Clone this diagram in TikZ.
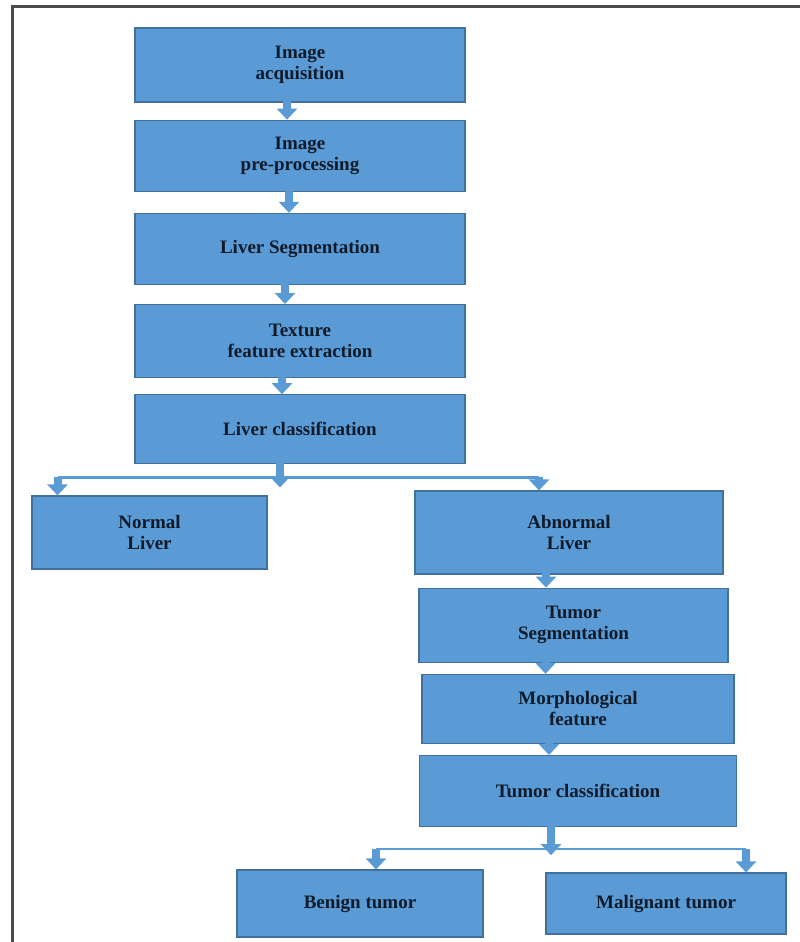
\documentclass[tikz,border=0pt]{standalone}
\usepackage{fontspec}
\setmainfont{Liberation Serif}
\usetikzlibrary{positioning, arrows.meta, calc}
\definecolor{boxblue}{HTML}{5B9BD5}
\definecolor{edgeblue}{HTML}{41719C}
\definecolor{inkblue}{HTML}{0F1A2A}

\begin{document}
\begin{tikzpicture}[
  x=1pt, y=-1pt,
  every node/.style={font=\bfseries\fontsize{19}{21}\selectfont, text=inkblue},
  stage/.style={align=center, draw=edgeblue, line width=1.2pt, fill=boxblue, minimum width=330pt, minimum height=71pt, inner sep=2pt},
  blk/.style={-{Triangle[width=20pt, length=11pt]}, line width=8pt, boxblue, shorten <=-8pt},
  bar/.style={line width=2.5pt, boxblue},
]
  \useasboundingbox (0,0) rectangle (800,942);
  \draw[line width=3pt, black!70] (12,942) -- (12,7) -- (800,7);

  % liver column
  \node[stage, minimum height=74pt] (acq) at (300,65) {Image\\acquisition};
  \node[stage, below=17pt of acq] (pre) {Image\\pre-processing};
  \node[stage, below=21pt of pre] (lseg) {Liver Segmentation};
  \node[stage, below=19pt of lseg, minimum height=73pt] (tex) {Texture\\feature extraction};
  \node[stage, below=16pt of tex, minimum height=69pt] (lcls) {Liver classification};
  \coordinate (a1) at ([xshift=-13pt]acq.south);
  \coordinate (a2) at ([xshift=-11pt]pre.south);
  \coordinate (a3) at ([xshift=-15pt]lseg.south);
  \coordinate (a4) at ([xshift=-18pt]tex.south);
  \draw[blk] (a1) -- (a1 |- pre.north);
  \draw[blk] (a2) -- (a2 |- lseg.north);
  \draw[blk] (a3) -- (a3 |- tex.north);
  \draw[blk] (a4) -- (a4 |- lcls.north);

  % liver branches
  \node[stage, minimum width=235pt, minimum height=73pt] (nrm) at (149.5,532.5) {Normal\\Liver};
  \node[stage, minimum width=308pt, minimum height=83pt] (abn) at (569,532.5) {Abnormal\\Liver};
  \coordinate (fk1) at ([xshift=-20pt, yshift=-13pt]lcls.south);
  \coordinate (nrmin) at ([xshift=-92pt]nrm.north);
  \coordinate (abnin) at ([xshift=-30pt]abn.north);
  \draw[bar] (nrmin |- fk1) -- (abnin |- fk1);
  \draw[blk] ([xshift=-20pt]lcls.south) -- ([xshift=-20pt, yshift=-23pt]lcls.south);
  \draw[blk, shorten <=0pt] (nrmin |- fk1) -- (nrmin);
  \draw[blk, shorten <=0pt] (abnin |- fk1) -- (abnin);

  % tumor column
  \node[stage, below=13pt of abn, xshift=4.5pt, minimum width=309pt, minimum height=74pt] (tseg) {Tumor\\Segmentation};
  \node[stage, below=11pt of tseg, xshift=4.5pt, minimum width=312pt, minimum height=69pt] (morph) {Morphological\\feature};
  \node[stage, below=11pt of morph, minimum width=317pt] (tcls) {Tumor classification};
  \coordinate (b1) at ([xshift=-23pt]abn.south);
  \coordinate (b2) at ([xshift=-28pt]tseg.south);
  \coordinate (b3) at ([xshift=-29pt]morph.south);
  \draw[blk] (b1) -- (b1 |- tseg.north);
  \draw[blk] (b2) -- (b2 |- morph.north);
  \draw[blk] (b3) -- (b3 |- tcls.north);

  % tumor branches
  \node[stage, minimum width=246pt, minimum height=67pt] (ben) at (360,903.5) {Benign tumor};
  \node[stage, minimum width=240pt, minimum height=61pt] (mal) at (666,903.5) {Malignant tumor};
  \coordinate (fk2) at ([xshift=-27pt, yshift=-22pt]tcls.south);
  \coordinate (benin) at ([xshift=16pt]ben.north);
  \coordinate (malin) at ([xshift=80pt]mal.north);
  \draw[bar] (benin |- fk2) -- (malin |- fk2);
  \draw[blk] ([xshift=-27pt]tcls.south) -- ([xshift=-27pt, yshift=-28pt]tcls.south);
  \draw[blk, shorten <=0pt] (benin |- fk2) -- (benin);
  \draw[blk, shorten <=0pt] (malin |- fk2) -- (malin);
\end{tikzpicture}
\end{document}
